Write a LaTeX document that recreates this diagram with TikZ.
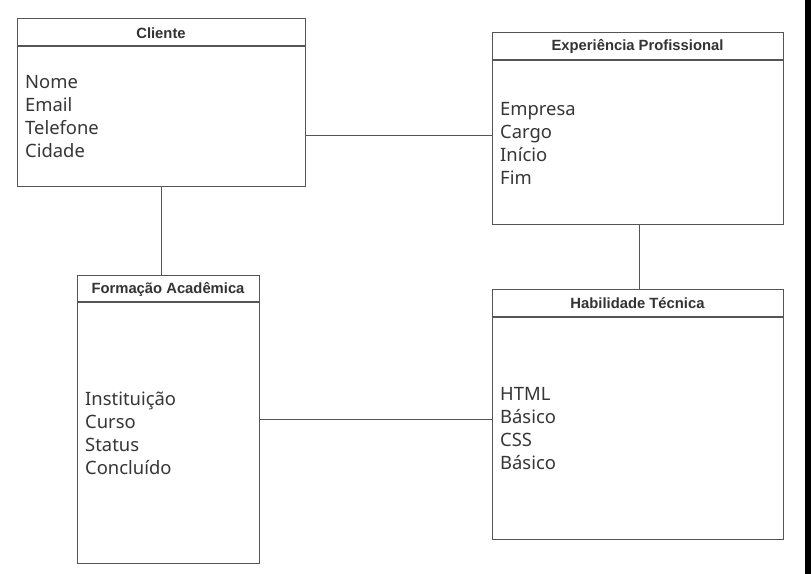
\documentclass[tikz,border=0pt]{standalone}
\usepackage{fontspec}
\setmainfont{Noto Sans}
\newfontfamily\ttlfont{Liberation Sans}
\usetikzlibrary{calc}
\definecolor{linec}{HTML}{555555}
\definecolor{textc}{HTML}{363636}
\definecolor{titlec}{HTML}{333333}
\tikzset{
  entity/.style={draw=linec, line width=1.1bp, anchor=north west, inner sep=0pt, fill=white},
  hdrline/.style={draw=linec, line width=1.1bp},
  conn/.style={draw=linec, line width=0.9bp},
  ttl/.style={text=titlec, font=\ttlfont\bfseries\fontsize{14.8bp}{16bp}\selectfont, inner sep=0pt},
  attrs/.style={text=textc, font=\fontsize{18.4bp}{23bp}\selectfont, align=left, anchor=west, inner sep=0pt}
}
\begin{document}
\begin{tikzpicture}[x=1bp,y=-1bp]
\useasboundingbox (0,0) rectangle (811,574);
\fill[white] (0,0) rectangle (811,574);
\fill[black] (805,0) rectangle (811,574);

% Cliente
\node[entity, minimum width=288bp, minimum height=168bp] (cli) at (17,18) {};
\draw[hdrline] (17,46) -- (305,46);
\node[ttl] (clit) at (161,33.5) {Cliente};
\node[attrs] (clia) at (25,117) {Nome\\Email\\Telefone\\Cidade};

% Experiencia
\node[entity, minimum width=291bp, minimum height=192bp] (exp) at (492,32) {};
\draw[hdrline] (492,60) -- (783,60);
\node[ttl] (expt) at (637.5,46.5) {Experiência Profissional};
\node[attrs] (expa) at (500,143) {Empresa\\Cargo\\Início\\Fim};

% Formacao
\node[entity, minimum width=182bp, minimum height=288bp] (for) at (77,275) {};
\draw[hdrline] (77,302) -- (259,302);
\node[ttl] (fort) at (168,289.5) {Formação Acadêmica};
\node[attrs] (fora) at (85,433) {Instituição\\Curso\\Status\\Concluído};

% Habilidade
\node[entity, minimum width=291bp, minimum height=250bp] (hab) at (492,289) {};
\draw[hdrline] (492,317) -- (783,317);
\node[ttl] (habt) at (637.5,303.5) {Habilidade Técnica};
\node[attrs] (haba) at (500,429) {HTML\\Básico\\CSS\\Básico};

% connectors
\draw[conn] (cli.east |- 0,135) -- (exp.west |- 0,135);
\draw[conn] (161,0 |- cli.south) -- (161,0 |- for.north);
\draw[conn] (639,0 |- exp.south) -- (639,0 |- hab.north);
\draw[conn] (for.east |- 0,419) -- (hab.west |- 0,419);
\end{tikzpicture}
\end{document}
